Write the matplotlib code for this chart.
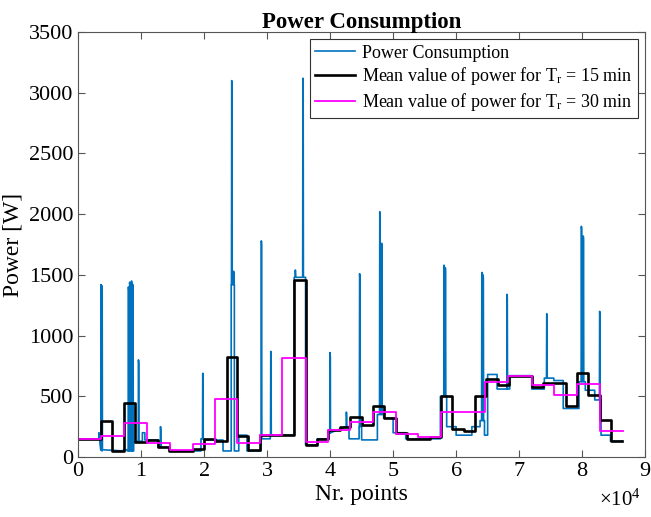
import matplotlib
matplotlib.use("Agg")
import matplotlib.pyplot as plt
import numpy as np

plt.rcParams['font.family'] = ['Liberation Serif', 'DejaVu Serif']
plt.rcParams['mathtext.fontset'] = 'custom'
plt.rcParams['mathtext.rm'] = 'Liberation Serif'
plt.rcParams['mathtext.it'] = 'Liberation Serif:italic'

# x positions below are in units of 1e4 points

# blue signal: base levels between edges
blue_edges = [0, 0.33, 0.36, 0.38, 0.72, 0.78, 0.88, 0.92, 1.02, 1.06, 1.1, 1.27, 1.45, 1.95,
              2.0, 2.3, 2.43, 2.48, 2.55, 2.68, 2.9, 3.05, 3.43, 3.61, 3.8, 3.97, 4.0, 4.3,
              4.46, 4.5, 4.75, 4.85, 5.0, 5.2, 5.75, 5.85, 6.0, 6.25, 6.38, 6.45, 6.5,
              6.65, 6.85, 7.2, 7.4, 7.55, 7.7, 7.95, 8.05, 8.2, 8.3, 8.45, 8.64]
blue_levels = [150, 200, 60, 50, 60, 50, 120, 130, 200, 140, 140, 80, 50, 150,
               140, 50, 1420, 50, 180, 50, 150, 180, 1480, 100, 150, 200, 250,
               150, 250, 141, 350, 320, 200, 150, 500, 250, 180, 250, 300, 180,
               680, 560, 670, 560, 650, 630, 400, 620, 550, 470, 180, 130]

# spikes: position and peak
spike_x = [0.365, 0.38, 0.80, 0.82, 0.85, 0.87, 0.96, 1.31, 1.98, 2.44, 2.47, 2.91, 3.06,
           3.45, 3.57, 4.0, 4.26, 4.47, 4.79, 4.82, 5.81, 5.83, 6.41, 6.43, 6.81, 7.44,
           7.99, 8.02, 8.28]
spike_y = [1420, 1410, 1400, 1440, 1450, 1420, 800, 250, 690, 3100, 1530, 1780, 870,
           1540, 3120, 860, 370, 1510, 2020, 1760, 1580, 1560, 1520, 1500, 1340, 1180,
           1900, 1820, 1200]

# mean for Tr = 15 min (black)
m15_edges = [0, 0.36, 0.54, 0.73, 0.91, 1.09, 1.27, 1.45, 1.82, 2.0, 2.18, 2.36, 2.52,
             2.7, 2.89, 3.43, 3.61, 3.79, 3.97, 4.15, 4.32, 4.5, 4.68, 4.86, 5.04, 5.22,
             5.58, 5.76, 5.94, 6.12, 6.3, 6.48, 6.66, 6.84, 7.2, 7.38, 7.74, 7.92, 8.1,
             8.28, 8.46, 8.64]
m15_vals = [150, 300, 46, 441, 120, 141, 82, 52, 68, 147, 133, 822, 174,
            60, 178, 1454, 100, 147, 223, 245, 332, 264, 422, 318, 201, 148,
            165, 503, 231, 217, 503, 640, 596, 667, 577, 609, 422, 694, 509,
            305, 133]

# mean for Tr = 30 min (magenta)
m30_edges = [0, 0.36, 0.73, 1.09, 1.46, 1.82, 2.17, 2.52, 2.89, 3.24, 3.61, 3.96, 4.32,
             4.68, 5.04, 5.4, 5.76, 6.46, 6.83, 7.2, 7.56, 7.92, 8.28, 8.65]
m30_vals = [150, 177, 283, 114, 55, 105, 474, 114, 182, 814, 120, 223, 291,
            368, 190, 163, 368, 618, 664, 591, 509, 599, 217]


def step_xy(edges, vals):
    xs, ys = [], []
    for i, v in enumerate(vals):
        xs += [edges[i], edges[i + 1]]
        ys += [v, v]
    return np.array(xs) * 1e4, np.array(ys)


def blue_xy(edges, levels, sx, sy, w=0.006):
    pts = []
    for i, v in enumerate(levels):
        pts.append((edges[i], v))
        pts.append((edges[i + 1], v))
    for x, y in zip(sx, sy):
        i = np.searchsorted(edges, x) - 1
        base = levels[max(0, min(i, len(levels) - 1))]
        pts += [(x - w, base), (x - w / 3, y), (x + w / 3, y - 30), (x + w, base)]
    pts.sort(key=lambda p: p[0])
    xs = np.array([p[0] for p in pts]) * 1e4
    ys = np.array([p[1] for p in pts])
    return xs, ys


fig = plt.figure(figsize=(6.51, 5.17), dpi=100)
ax = fig.add_axes([0.12, 0.116, 0.871, 0.822])

bx, by = blue_xy(blue_edges, blue_levels, spike_x, spike_y)
ax.plot(bx, by, color='#0072BD', lw=1.2, label='Power Consumption')
x15, y15 = step_xy(m15_edges, m15_vals)
ax.plot(x15, y15, color='black', lw=1.9, label='Mean value of power for T$_{\\mathrm{r}}$ = 15 min')
x30, y30 = step_xy(m30_edges, m30_vals)
ax.plot(x30, y30, color='#FF00FF', lw=1.3, label='Mean value of power for T$_{\\mathrm{r}}$ = 30 min')

ax.set_xlim(0, 9e4)
ax.set_ylim(0, 3500)
ax.set_xticks(np.arange(0, 9.1e4, 1e4))
ax.set_xticklabels([str(i) for i in range(10)])
ax.set_yticks(np.arange(0, 3501, 500))
ax.tick_params(direction='in', top=True, right=True, labelsize=16, color='#555555', length=5)
for s in ax.spines.values():
    s.set_color('#555555')
fig.text(0.985, 0.012, r'$\times$10$^4$', fontsize=15, ha='right', va='bottom')

ax.set_xlabel('Nr. points', fontsize=17, labelpad=2)
ax.set_ylabel('Power [W]', fontsize=17, labelpad=4)
ax.set_title('Power Consumption', fontsize=16.5, fontweight='bold', pad=3)

leg = ax.legend(loc='upper right', fontsize=13, fancybox=False, framealpha=1,
                edgecolor='#333333', borderaxespad=0.4, handlelength=2.2,
                labelspacing=0.2, borderpad=0.3, handletextpad=0.4)
leg.get_frame().set_linewidth(0.8)

fig.savefig('out.png', dpi=100)
